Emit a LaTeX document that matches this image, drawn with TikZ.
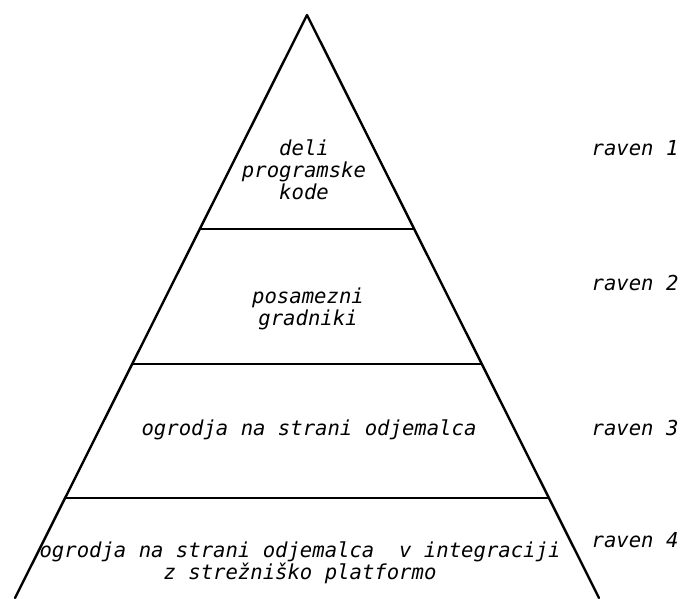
\documentclass[tikz,border=0pt]{standalone}
\usepackage{fontspec}
\newfontfamily\monofont{DejaVu Sans Mono}
\usepackage{tikz}

\tikzset{
  nivo/.style={font=\monofont\itshape\fontsize{10.3}{11}\selectfont, align=center, inner sep=0pt},
  raven/.style={font=\monofont\itshape\fontsize{10.3}{11}\selectfont, inner sep=0pt},
  rob/.style={line width=1.2pt}
}

\begin{document}
\begin{tikzpicture}[x=0.5pt, y=-0.5pt, line cap=round, line join=round]

\useasboundingbox (0,0) rectangle (683,598);

% Piramida
\coordinate (vrh) at (307,15);
\coordinate (levo) at (15,598);
\coordinate (desno) at (599,598);
\draw[rob] (levo) -- (vrh) -- (desno);

% Meje med ravnmi
\draw[rob] (200,229) -- (413,229);
\draw[rob] (133,364) -- (481,364);
\draw[rob] (66,498) -- (548,498);

% Vsebina ravni
\node[nivo] (n1) at (304,170) {deli\\programske\\kode};
\node[nivo] (n2) at (308,309) {posamezni\\gradniki};
\node[nivo] (n3) at (309,430) {ogrodja na strani odjemalca};
\node[nivo] (n4) at (300,563) {ogrodja na strani odjemalca\ \ v integraciji\\z strežniško platformo};

% Oznake ravni
\node[raven] (r1) at (635,148) {raven 1};
\node[raven] (r2) at (635,283) {raven 2};
\node[raven] (r3) at (635,428) {raven 3};
\node[raven] (r4) at (635,540) {raven 4};

\end{tikzpicture}
\end{document}
